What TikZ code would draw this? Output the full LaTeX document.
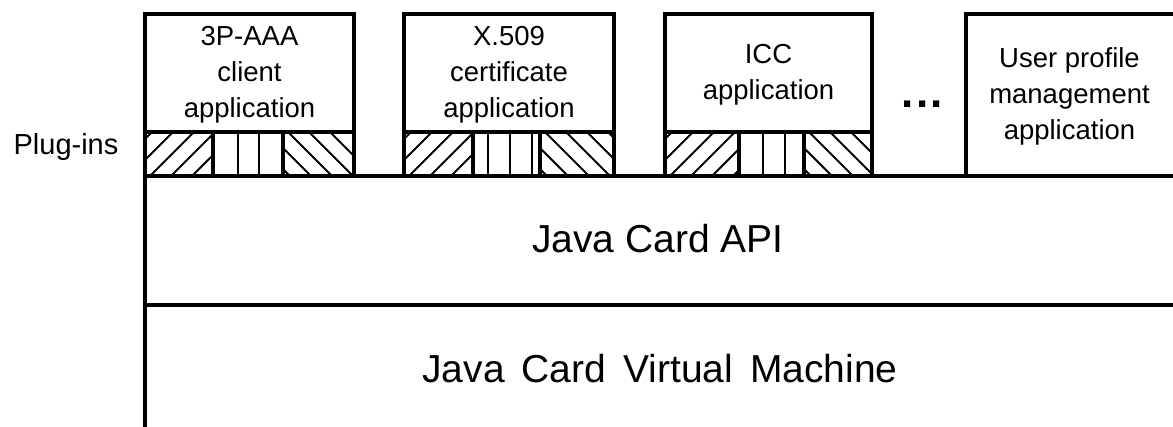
\documentclass[tikz,border=0pt]{standalone}
\usepackage{fontspec}
\setmainfont{Liberation Sans}

% hatched plug-in band under an application box:
% #1 left edge, #2 first divider, #3 second divider, #4 right edge, #5 vertical hatch lines
\newcommand\pluginband[5]{%
  \begin{scope}
    \clip (#1,132) rectangle (#2,176);
    \foreach \k in {-3,...,3} \draw[hatch] (#1+5+21*\k,176) -- ++(46,-46);
  \end{scope}
  \foreach \v in {#5} \draw[hatch] (\v,132) -- (\v,176);
  \begin{scope}
    \clip (#3,132) rectangle (#4,176);
    \foreach \k in {-3,...,4} \draw[hatch] (#3+5+21*\k,132) -- ++(46,46);
  \end{scope}
  \draw[frame] (#1,132) -- (#4,132) (#2,132) -- (#2,176) (#3,132) -- (#3,176);
}
% wider inter-word spaces for the bottom layer label
\newcommand\widespacing{\spaceskip=17pt plus 1pt\relax}

\begin{document}
\begin{tikzpicture}[x=1pt,y=-1pt,
  frame/.style={draw=black,line width=3.2pt,line join=miter},
  hatch/.style={draw=black,line width=2pt},
  boxshape/.style={frame,rectangle,anchor=north west,inner sep=0pt,outer sep=0pt},
  apptext/.style={align=center,inner sep=0pt,font=\fontsize{27.5}{36}\selectfont},
  layertext/.style={anchor=base,inner sep=0pt,font=\fontsize{39}{47}\selectfont}]
\useasboundingbox (0,0) rectangle (1173,427);

% platform layers (open to the right and bottom)
\node[boxshape,minimum width=1100,minimum height=129] (api) at (145,176) {};
\node[boxshape,minimum width=1100,minimum height=160] (jcvm) at (145,305) {};
\node[layertext] (apilabel) at (658,253) {Java Card API};
\node[layertext] (jcvmlabel) at (660,383) {\widespacing Java Card Virtual Machine};

% plug-in hatching
\pluginband{145}{213}{283}{354}{238,259}
\pluginband{404}{473}{540}{614}{488,510,532}
\pluginband{665}{739}{804}{872}{763,785}

% application boxes
\node[boxshape,minimum width=209,minimum height=162] (app1) at (145,14) {};
\node[boxshape,minimum width=210,minimum height=162] (app2) at (404,14) {};
\node[boxshape,minimum width=207,minimum height=162] (app3) at (665,14) {};
\node[boxshape,minimum width=260,minimum height=162] (app4) at (966,14) {};

\node[apptext] (app1text) at (249.5,75) {3P-AAA\\client\\application};
\node[apptext] (app2text) at (509,75) {X.509\\certificate\\application};
\node[apptext] (app3text) at (768.5,75) {ICC\\application};
\node[apptext] (app4text) at (1069.5,96) {User profile\\management\\application};

\node[anchor=base,inner sep=0pt,font=\fontsize{44}{50}\selectfont\bfseries] (more) at (922.5,107.3) {.\kern2.3pt.\kern2.3pt.};

\node[anchor=base,inner sep=0pt,font=\fontsize{29}{35}\selectfont] (plugins) at (66,155) {Plug-ins};
\end{tikzpicture}
\end{document}
